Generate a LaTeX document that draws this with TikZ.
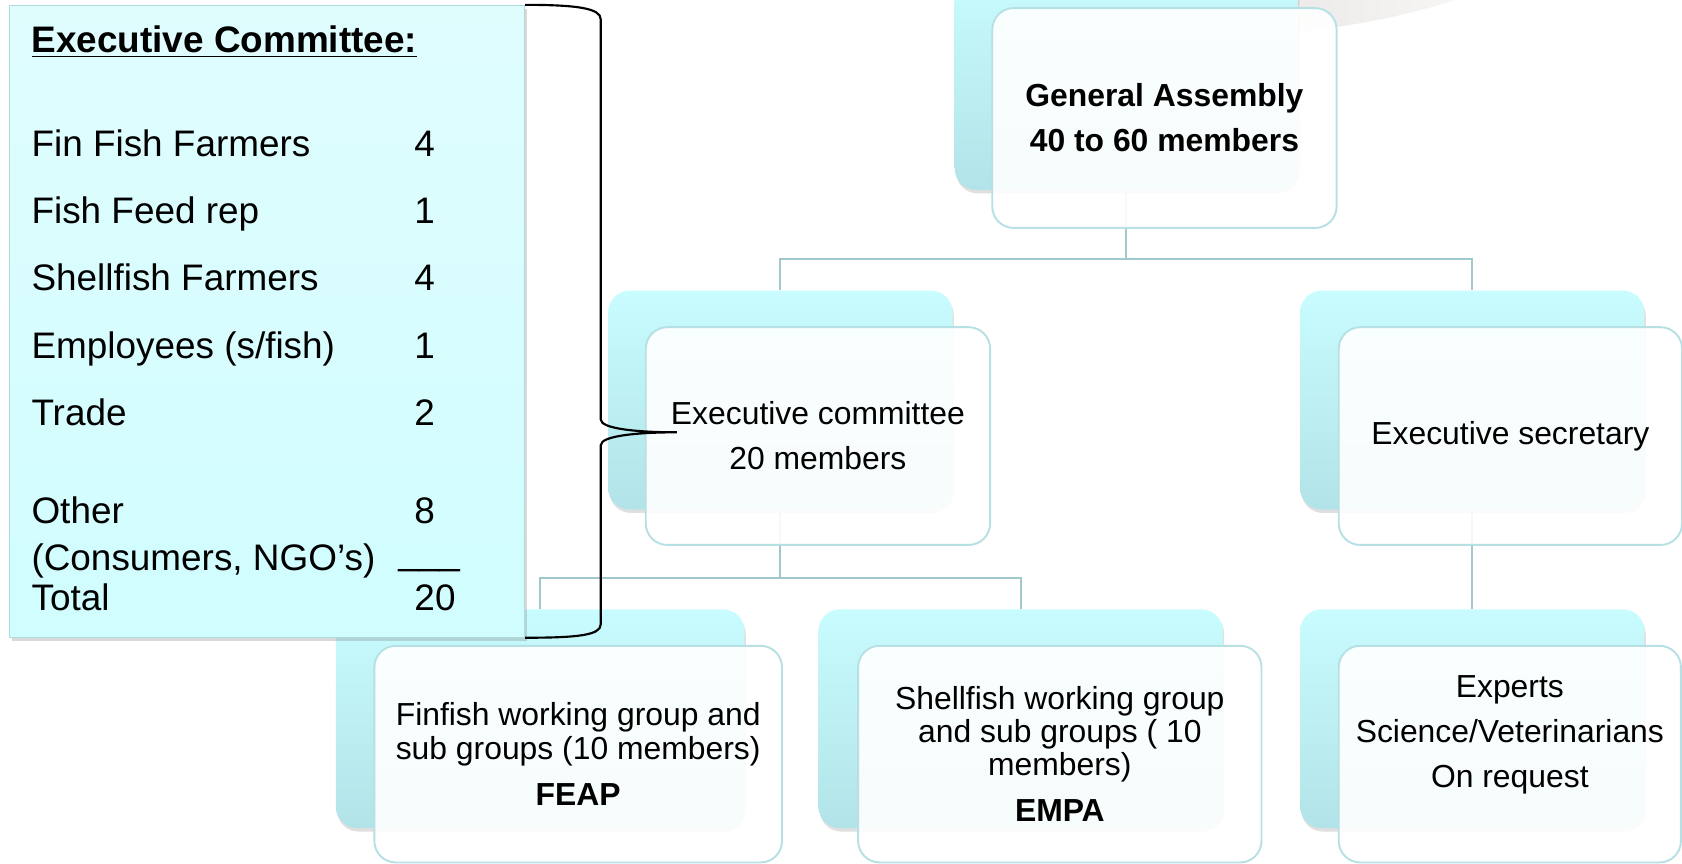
\documentclass[tikz,border=0pt]{standalone}
\usepackage{fontspec}
\setmainfont{Liberation Sans}
\usetikzlibrary{shadows}
\definecolor{backtop}{RGB}{201,252,254}
\definecolor{backbottom}{RGB}{177,227,232}
\definecolor{frontline}{RGB}{183,224,229}
\definecolor{linkline}{RGB}{160,200,205}
\definecolor{paneltop}{RGB}{224,253,254}
\definecolor{panelbottom}{RGB}{208,253,254}
\definecolor{panelline}{RGB}{175,218,222}
\definecolor{swoosh}{RGB}{234,231,229}
\tikzstyle{back}=[rounded corners=10pt, top color=backtop, bottom color=backbottom, minimum height=102pt, drop shadow={shadow xshift=.6pt, shadow yshift=-1.6pt, opacity=.25}]
\tikzstyle{front}=[rounded corners=10pt, draw=frontline, line width=.9pt, fill=white, fill opacity=.9, text opacity=1, minimum height=101.5pt, align=center, font=\fontsize{14.85}{21}\selectfont]
\tikzset{tight/.style={font=\fontsize{14.85}{15.5}\selectfont}}
\tikzset{link/.style={draw=linkline, line width=.9pt}}
\tikzset{panel/.style={top color=paneltop, bottom color=panelbottom, draw=panelline, line width=.5pt, drop shadow={shadow xshift=1pt, shadow yshift=-1.6pt, opacity=.3}}}
\tikzset{item/.style={anchor=base west, inner sep=0pt, font=\fontsize{17.2}{20}\selectfont}}
\tikzset{brace/.style={line width=1pt}}

\begin{document}
\begin{tikzpicture}[x=0.5pt,y=-0.5pt]
  \clip (0,0) rectangle (1568,805);
  \shade[left color=swoosh, right color=swoosh!40!white] (1150,0) -- (1150,34) .. controls (1250,30) and (1320,12) .. (1356,0) -- cycle;

  %% back boxes
  \draw (1050,75) node[back, minimum width=160pt] (GA) {};
  \draw (727.5,373) node[back, minimum width=160.5pt] (EC) {};
  \draw (1372.5,373) node[back, minimum width=160.5pt] (ES) {};
  \draw (503.5,670) node[back, minimum width=190.5pt] (FF) {};
  \draw (951.5,670) node[back, minimum width=188.5pt] (SF) {};
  \draw (1372.5,670) node[back, minimum width=160.5pt] (EX) {};

  %% links
  \draw[link] (GA.south) -- ++(0,64) -| (EC.north);
  \draw[link] (GA.south) -- ++(0,64) -| (ES.north);
  \draw[link] (EC.south) -- ++(0,63) -| (FF.north);
  \draw[link] (EC.south) -- ++(0,63) -| (SF.north);
  \draw[link] (ES.south) -- (EX.north);

  %% front boxes
  \draw (1085.5,110) node[front, minimum width=160.5pt, minimum height=102.5pt] (GAf) {\textbf{General Assembly}\\\textbf{40 to 60 members}};
  \draw (762.5,406.5) node[front, minimum width=160.5pt] (ECf) {Executive committee\\20 members};
  \draw (1408,406.5) node[front, minimum width=160pt] (ESf) {Executive secretary};
  \draw (539,703) node[front, tight, minimum width=190pt, minimum height=101pt] (FFf) {Finfish working group and\\sub groups (10 members)\\[6pt]\textbf{FEAP}};
  \draw (988,703) node[front, tight, minimum width=188pt, minimum height=101pt] (SFf) {Shellfish working group\\and sub groups ( 10\\members)\\[6pt]\textbf{EMPA}};
  \draw (1407.5,703) node[front, minimum width=159.5pt, minimum height=101pt] (EXf) {Experts\\Science/Veterinarians\\On request\\~};

  %% Executive committee list
  \draw (249,299.5) node[panel, minimum width=240pt, minimum height=294.5pt] (EXC) {};
  \draw (29,49) node[item] (L0) {\underline{\textbf{Executive Committee:}}};
  \draw (29,146) node[item] (L1) {Fin Fish Farmers};
  \draw (29,208) node[item] (L2) {Fish Feed rep};
  \draw (29,271) node[item] (L3) {Shellfish Farmers};
  \draw (29,334) node[item] (L4) {Employees (s/fish)};
  \draw (29,397) node[item] (L5) {Trade};
  \draw (29,488) node[item] (L6) {Other};
  \draw (29,532) node[item] (L7) {(Consumers, NGO’s)};
  \draw (29,569) node[item] (L8) {Total};
  \draw (386,146) node[item] (N1) {4};
  \draw (386,208) node[item] (N2) {1};
  \draw (386,271) node[item] (N3) {4};
  \draw (386,334) node[item] (N4) {1};
  \draw (386,397) node[item] (N5) {2};
  \draw (386,488) node[item] (N6) {8};
  \draw (371,526) node[item] (N7) {\_\_\_};
  \draw (386,569) node[item] (N8) {20};

  %% brace towards the committee
  \coordinate (Btip) at (631,403);
  \draw[brace] (EXC.north east) .. controls +(50,0) and +(0,-10) .. (560,18) -- (560,391)
    .. controls +(0,9) and +(-35,0) .. (Btip) .. controls +(-35,0) and +(0,-9) .. (560,415)
    -- (560,582) .. controls +(0,10) and +(50,0) .. (EXC.south east);
\end{tikzpicture}
\end{document}
